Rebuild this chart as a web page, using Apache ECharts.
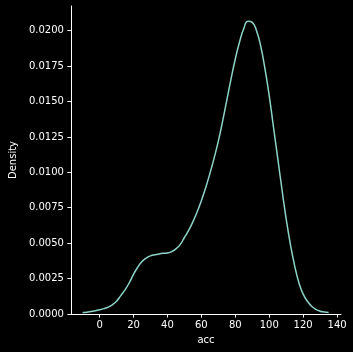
<!DOCTYPE html>
<html>
<head>
<meta charset="utf-8">
<script src="https://cdn.jsdelivr.net/npm/echarts@6/dist/echarts.min.js"></script>
<style>
html,body{margin:0;padding:0;background:#000;}
#chart{width:353px;height:352px;}
</style>
</head>
<body>
<div id="chart"></div>
<script>
const accValues = [-10, -7.5, -5, -2.5, 0, 2.5, 5, 7.5, 10, 12.5, 15, 17.5, 20, 22.5, 25, 27.5, 30, 32.5, 35, 37.5, 40, 42.5, 45, 47.5, 50, 52.5, 55, 57.5, 60, 62.5, 65, 67.5, 70, 72.5, 75, 77.5, 80, 82.5, 85, 87.5, 90, 92.5, 95, 97.5, 100, 102.5, 105, 107.5, 110, 112.5, 115, 117.5, 120, 122.5, 125, 127.5, 130, 132.5, 135];
const densityValues = [0.0001, 0.00013, 0.00017, 0.00023, 0.0003, 0.00038, 0.00048, 0.00065, 0.0009, 0.0013, 0.0017, 0.0022, 0.0028, 0.0033, 0.0037, 0.00395, 0.0041, 0.00418, 0.00424, 0.00428, 0.0043, 0.0044, 0.0046, 0.0049, 0.0054, 0.0059, 0.0065, 0.0072, 0.0080, 0.0089, 0.0099, 0.0110, 0.0122, 0.0136, 0.0151, 0.0166, 0.0180, 0.0192, 0.02015, 0.02066, 0.02058, 0.0200, 0.0189, 0.0173, 0.0154, 0.0132, 0.0110, 0.0088, 0.0067, 0.0049, 0.0034, 0.0022, 0.0014, 0.0009, 0.00055, 0.00033, 0.0002, 0.00014, 0.0001];
const xTicks = [0, 20, 40, 60, 80, 100, 120, 140];
const yTicks = [0, 0.0025, 0.005, 0.0075, 0.01, 0.0125, 0.015, 0.0175, 0.02];

const chart = echarts.init(document.getElementById('chart'), null, {renderer: 'canvas'});
const font = 'DejaVu Sans';
chart.setOption({
  backgroundColor: '#000000',
  animation: false,
  grid: {left: 63, right: 12, top: 6, bottom: 38, containLabel: false},
  xAxis: {
    type: 'value', min: -16.9, max: 142.3,
    name: 'acc', nameLocation: 'middle', nameGap: 21,
    nameTextStyle: {color: '#ffffff', fontFamily: font, fontSize: 10},
    axisLine: {show: true, onZero: false, lineStyle: {color: '#ffffff', width: 1}},
    axisTick: {show: true, length: 3.5, customValues: xTicks, lineStyle: {color: '#ffffff'}},
    axisLabel: {color: '#ffffff', fontFamily: font, fontSize: 10, margin: 6, customValues: xTicks},
    splitLine: {show: false}
  },
  yAxis: {
    type: 'value', min: 0, max: 0.02174,
    name: 'Density', nameLocation: 'middle', nameGap: 49,
    nameTextStyle: {color: '#ffffff', fontFamily: font, fontSize: 10},
    axisLine: {show: true, onZero: false, lineStyle: {color: '#ffffff', width: 1}},
    axisTick: {show: true, length: 3.5, customValues: yTicks, lineStyle: {color: '#ffffff'}},
    axisLabel: {color: '#ffffff', fontFamily: font, fontSize: 10, margin: 7, customValues: yTicks,
      formatter: v => v.toFixed(4)},
    splitLine: {show: false}
  },
  series: [{
    type: 'line', smooth: 0.5, showSymbol: false,
    data: accValues.map((x, i) => [x, densityValues[i]]),
    lineStyle: {color: '#8dd3c7', width: 1.5}
  }]
});
</script>
</body>
</html>
